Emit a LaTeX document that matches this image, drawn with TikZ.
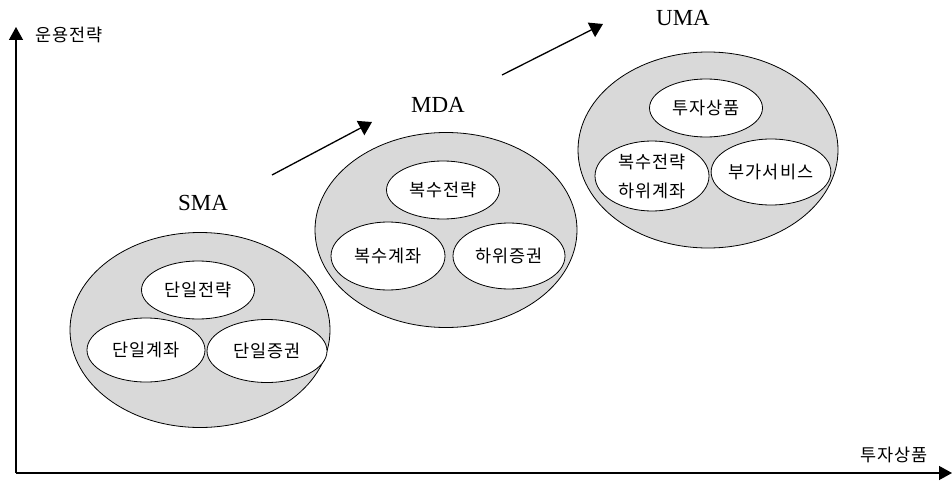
\documentclass[tikz,border=0pt]{standalone}
\usepackage{fontspec}
\setmainfont{Liberation Serif}
\newfontfamily\kr[LetterSpace=6]{Noto Sans CJK KR}
\usetikzlibrary{shapes.geometric,arrows.meta}
\definecolor{groupfill}{RGB}{217,217,217}
\tikzset{
  group/.style={ellipse, draw=black, line width=0.8pt, fill=groupfill,
    minimum width=260pt, minimum height=195pt, inner sep=0pt},
  item/.style={ellipse, draw=black, line width=0.8pt, fill=white,
    minimum width=#1, minimum height=58pt, inner sep=0pt, align=center,
    font=\kr\fontsize{17.5}{21}\selectfont},
  item/.default=113pt,
  title/.style={font=\fontsize{23}{26}\selectfont},
  axislabel/.style={font=\kr\fontsize{17.5}{21}\selectfont},
  axis/.style={line width=1.3pt, -{Triangle[length=13pt,width=14pt]}},
  trend/.style={line width=1.3pt, -{Triangle[length=13pt,width=16pt]}}
}
\begin{document}
\begin{tikzpicture}[x=1pt,y=-1pt]
\useasboundingbox (0,0) rectangle (952,484);

% axes
\coordinate (origin) at (16,473);
\coordinate (ytip) at (16,27);
\coordinate (xtip) at (952,473);
\draw[axis] (origin) -- (ytip);
\draw[axis] (origin) -- (xtip);
\node[axislabel, anchor=west] (ylab) at (32,35) {운용전략};
\node[axislabel] (xlab) at (894,455) {투자상품};

% SMA
\node[title] (smat) at (203,203) {SMA};
\node[group] (sma) at (200,330) {};
\node[item] (s1) at (198,290) {단일전략};
\node[item=118pt, minimum height=64pt] (s2) at (146,350) {단일계좌};
\node[item=120pt, minimum height=63pt] (s3) at (267,351) {단일증권};

% MDA
\node[title] (mdat) at (438,105) {MDA};
\node[group, minimum width=262pt] (mda) at (446,230) {};
\node[item] (m1) at (443,190) {복수전략};
\node[item=114pt, minimum height=68pt] (m2) at (388,256) {복수계좌};
\node[item=112pt, minimum height=66pt] (m3) at (509,256) {하위증권};

% UMA
\node[title] (umat) at (683,18) {UMA};
\node[group, minimum height=196pt] (uma) at (708,150) {};
\node[item] (u1) at (706,108) {투자상품};
\node[item=114pt, minimum height=70pt] (u2) at (652,176) {복수전략\\[8pt]하위계좌};
\node[item=114pt, minimum height=66pt] (u3) at (771,172) {부가서비스};

% progression arrows
\coordinate (a1s) at (272,175);
\coordinate (a1e) at (372,122);
\coordinate (a2s) at (502,75);
\coordinate (a2e) at (603,24);
\draw[trend] (a1s) -- (a1e);
\draw[trend] (a2s) -- (a2e);
\end{tikzpicture}
\end{document}
